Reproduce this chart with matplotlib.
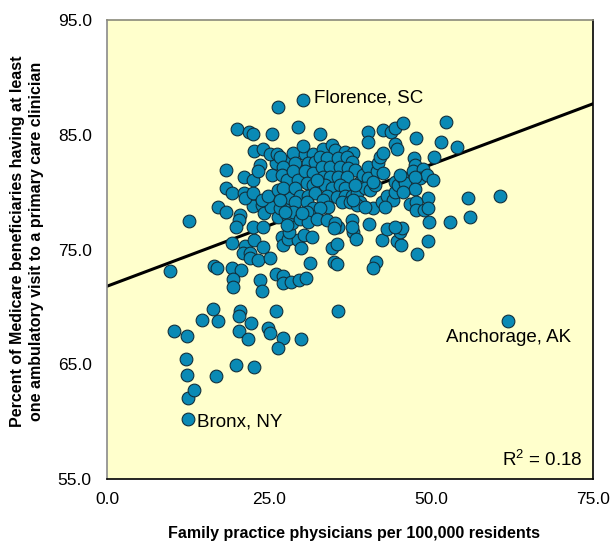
import matplotlib
matplotlib.use("Agg")
import matplotlib.pyplot as plt
import numpy as np

plt.rcParams['font.family'] = ['Liberation Sans', 'DejaVu Sans']
plt.rcParams['mathtext.default'] = 'regular'

# family practice physicians per 100k (x) / % with a primary care visit (y), by region of the cloud
low_x = [30.2, 26.4, 61.9, 12.5, 9.7, 12.7, 12.5, 13.4, 12.3, 12.2,
         10.3, 12.3, 14.7, 16.4, 17.1, 16.8, 19.9, 22.7, 20.5, 20.4,
         22.2, 20.4, 21.8, 24.8, 25.2, 26.1, 27.2, 29.9, 26.4, 35.6]
low_y = [88.0, 87.4, 68.8, 60.2, 73.1, 77.5, 62.1, 62.8, 64.1, 65.5,
         67.9, 67.5, 68.9, 69.8, 68.8, 64.0, 64.9, 64.8, 69.6, 69.2,
         68.6, 67.9, 67.2, 68.2, 67.7, 69.6, 67.3, 67.2, 66.4, 69.6]

band72_x = [16.5, 17.0, 19.3, 20.7, 19.4, 19.4, 23.6, 23.9, 26.1, 27.2,
            27.2, 28.4, 29.6, 30.7, 31.3, 35.0, 35.5, 41.5, 41.0]
band72_y = [73.6, 73.4, 73.4, 73.2, 72.4, 71.7, 72.3, 71.4, 72.9, 72.7,
            72.1, 72.2, 72.3, 72.5, 73.8, 73.9, 73.7, 73.9, 73.4]

band76_x = [19.3, 21.3, 21.0, 22.1, 22.1, 23.3, 22.7, 24.1, 25.2, 27.0,
            27.2, 27.9, 29.5, 30.4, 31.6, 29.9, 28.1, 28.5, 34.7, 35.5,
            38.0, 38.4, 42.4, 44.8, 45.4, 45.2, 47.8, 49.5, 49.7, 52.9,
            56.0, 55.7, 60.6, 40.4, 43.2, 45.5, 37.8, 37.8, 35.6]
band76_y = [75.6, 75.3, 74.7, 74.7, 74.3, 74.1, 75.8, 75.2, 74.3, 76.1,
            75.4, 75.9, 75.8, 76.3, 76.1, 75.1, 76.5, 77.3, 75.1, 75.5,
            76.5, 75.9, 75.8, 75.7, 75.4, 76.5, 74.6, 75.7, 77.4, 77.4,
            77.8, 79.5, 79.7, 77.2, 76.8, 76.9, 77.6, 77.0, 77.0]

left_x = [17.1, 18.4, 20.5, 20.4, 19.9, 22.5, 23.9, 24.2, 25.3, 27.5,
          22.5, 24.1, 26.4, 27.9, 26.7, 18.4, 19.3, 21.1, 21.3, 22.5,
          23.9, 24.8, 26.4, 27.8, 28.2, 18.4, 21.1, 22.5, 23.6, 23.3,
          25.5, 26.1, 27.5, 20.1, 21.9, 22.5, 25.5, 29.5, 22.7, 24.1,
          25.2, 26.2, 28.7, 32.9]
left_y = [78.7, 78.3, 78.0, 77.6, 77.0, 78.8, 78.9, 78.2, 78.7, 79.1,
          77.0, 77.0, 77.8, 77.8, 78.6, 80.4, 79.9, 79.9, 79.5, 79.9,
          79.3, 79.7, 80.2, 80.4, 79.5, 81.9, 81.3, 81.1, 82.4, 81.8,
          81.5, 82.5, 82.6, 85.5, 85.2, 85.1, 85.1, 85.7, 83.6, 83.8,
          83.3, 83.3, 83.4, 85.1]

core_x = [30.6, 31.8, 33.3, 34.7, 35.2, 36.7, 38.0, 26.7, 27.2, 27.0,
          27.8, 27.2, 29.0, 28.7, 29.5, 29.0, 29.8, 29.0, 28.7, 31.0,
          32.1, 30.6, 31.8, 30.9, 31.8, 31.0, 32.1, 30.9, 31.8, 30.9,
          32.9, 34.0, 33.2, 34.4, 33.3, 34.4, 33.6, 34.7, 34.0, 33.3,
          34.1, 32.9, 35.6, 37.0, 37.8, 36.0, 37.2, 38.3, 35.6, 37.0,
          36.0, 36.7, 35.5, 36.7, 37.8, 36.3, 37.5, 38.6, 39.0, 39.0,
          39.5, 40.3, 40.3, 39.8, 40.6, 41.4, 41.7, 41.8, 42.1, 42.6,
          41.0, 42.4, 43.2, 44.1, 44.4, 44.4, 44.9, 46.3, 45.5, 46.0,
          42.6, 26.7, 27.5, 27.8, 29.8, 31.0, 32.4, 34.0, 35.2, 44.4,
          38.6, 39.8, 41.0, 38.0, 32.4, 38.3, 30.2, 30.1, 35.0]
core_y = [83.3, 83.3, 83.8, 84.1, 83.7, 83.5, 83.4, 83.1, 82.2, 81.5,
          81.1, 80.4, 82.5, 81.8, 81.1, 80.4, 79.7, 79.1, 78.3, 82.5,
          82.6, 81.8, 81.7, 80.8, 80.6, 79.7, 79.9, 79.1, 78.6, 78.3,
          83.1, 83.0, 82.2, 82.2, 81.3, 81.3, 80.6, 80.4, 79.7, 79.3,
          78.7, 78.6, 83.0, 83.1, 82.6, 82.2, 82.1, 81.9, 81.3, 81.3,
          80.6, 80.4, 79.6, 79.7, 79.7, 79.1, 79.1, 79.9, 79.1, 80.9,
          81.5, 82.2, 81.2, 80.4, 80.2, 80.6, 81.8, 82.5, 83.1, 83.4,
          78.6, 79.1, 79.7, 79.3, 80.0, 80.9, 80.6, 80.4, 81.3, 80.8,
          81.7, 79.3, 78.3, 77.1, 77.7, 77.4, 77.7, 77.6, 77.3, 77.0,
          78.9, 78.7, 80.9, 79.3, 81.1, 80.6, 84.0, 78.2, 76.9]

right_x = [40.3, 40.3, 42.6, 43.8, 44.4, 45.7, 47.7, 52.3, 51.5, 54.0,
           44.4, 44.8, 50.5, 47.4, 47.5, 47.2, 48.8, 48.3, 49.4, 47.5,
           50.3, 45.2, 47.5, 45.7, 49.5, 46.8, 47.7, 47.7, 48.9, 49.5,
           42.9]
right_y = [85.2, 84.4, 85.4, 85.2, 85.6, 86.0, 84.7, 86.1, 84.4, 83.9,
           84.2, 83.8, 83.1, 83.0, 82.4, 81.8, 82.0, 81.2, 81.5, 81.3,
           81.1, 81.5, 80.3, 80.0, 79.5, 79.0, 79.1, 78.4, 78.4, 78.6,
           78.7]

physicians = np.array(low_x + band72_x + band76_x + left_x + core_x + right_x)
pct_visit = np.array(low_y + band72_y + band76_y + left_y + core_y + right_y)

# fitted line
intercept = 71.8
slope = 0.212
r_squared = 0.18

x_ticks = [0, 25, 50, 75]
y_ticks = [55, 65, 75, 85, 95]

labels = {'Florence, SC': (31.9, 88.2),
          'Bronx, NY': (13.9, 60.0),
          'Anchorage, AK': (52.3, 67.3)}

fig = plt.figure(figsize=(6.13, 5.48), dpi=100)
ax = fig.add_axes([0.1746, 0.1259, 0.7928, 0.8376])
ax.set_facecolor('#FFFFCC')

line_x = np.array([0, 75])
ax.plot(line_x, intercept + slope * line_x, color='black', lw=2.2, zorder=2)
ax.scatter(physicians, pct_visit, s=84, c='#0A8AB5', edgecolors='#12303C',
           linewidths=0.8, zorder=3)

for name, (tx, ty) in labels.items():
    ax.text(tx, ty, name, fontsize=13.5, va='center', ha='left', zorder=4)

ax.text(0.979, 0.041, f'R$^2$ = {r_squared:.2f}', transform=ax.transAxes,
        ha='right', va='center', fontsize=13.5)

ax.set_xlim(0, 75)
ax.set_ylim(55, 95)
ax.set_xticks(x_ticks)
ax.set_xticklabels([f'{t:.1f}' for t in x_ticks])
ax.set_yticks(y_ticks)
ax.set_yticklabels([f'{t:.1f}' for t in y_ticks])
ax.tick_params(axis='both', length=0, labelsize=12.5)
ax.tick_params(axis='y', pad=11)
ax.tick_params(axis='x', pad=9)

for side, col in [('left', '#8a8a8a'), ('top', '#8a8a7a'),
                  ('right', 'black'), ('bottom', 'black')]:
    ax.spines[side].set_color(col)
    ax.spines[side].set_linewidth(1.2)

fig.text(0.577, 0.027, 'Family practice physicians per 100,000 residents',
         ha='center', va='center', fontsize=11.5, fontweight='bold')
fig.text(0.044, 0.56, 'Percent of Medicare beneficiaries having at least\n'
         'one ambulatory visit to a primary care clinician',
         rotation=90, ha='center', va='center', multialignment='center',
         fontsize=11.5, fontweight='bold', linespacing=1.3)

fig.savefig('out.png', dpi=100)
